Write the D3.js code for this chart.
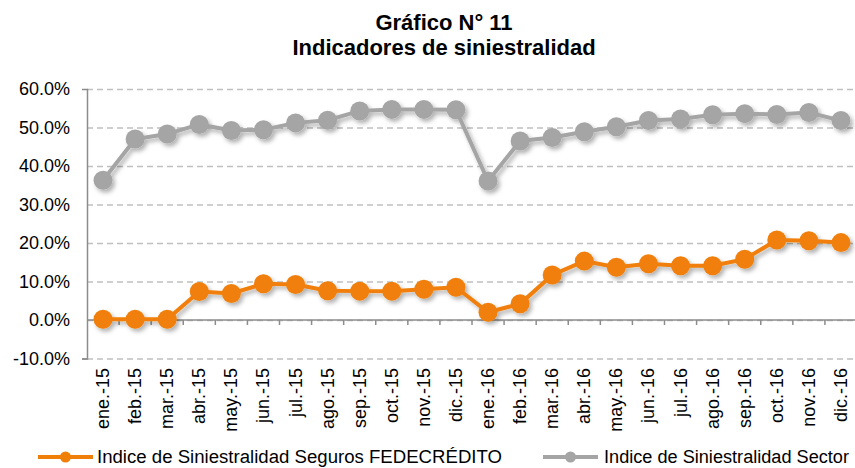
<html>
<head>
  <script src="https://d3js.org/d3.v7.min.js"></script>
  <style>
    body { margin: 0; background: #fff; }
    text { font-family: "Liberation Sans", Arial, sans-serif; fill: #000; }
    .gridlines line { stroke: #c0c0c0; stroke-width: 1.3; stroke-dasharray: 6,4; }
    .gridlines .domain { stroke: none; }
  </style>
</head>
<body>
<svg id="p" width="855" height="468"></svg>
<script>
  const months = ["ene.-15","feb.-15","mar.-15","abr.-15","may.-15","jun.-15","jul.-15","ago.-15","sep.-15","oct.-15","nov.-15","dic.-15",
                  "ene.-16","feb.-16","mar.-16","abr.-16","may.-16","jun.-16","jul.-16","ago.-16","sep.-16","oct.-16","nov.-16","dic.-16"];
  const fedecredito = [0.2,0.2,0.2,7.4,6.9,9.4,9.2,7.6,7.5,7.5,8.0,8.5,
                       2.0,4.2,11.7,15.3,13.7,14.6,14.1,14.1,15.8,20.8,20.6,20.1];
  const sector = [36.3,47.0,48.3,50.8,49.2,49.4,51.2,51.9,54.3,54.7,54.7,54.6,
                  36.1,46.5,47.4,48.9,50.2,51.8,52.2,53.3,53.6,53.4,53.9,51.8];
  const yTicks = [-10,0,10,20,30,40,50,60];
  const seriesNames = ["Indice de Siniestralidad Seguros FEDECRÉDITO","Indice de Siniestralidad Sector"];
  const colors = ["#f07f09","#a5a5a5"];

  const svg = d3.select("svg#p");
  const margin = {top: 89, right: -2, bottom: 110, left: 87};
  const width = +svg.attr("width");
  const height = +svg.attr("height");

  const x = d3.scaleBand().domain(months).range([margin.left, width - margin.right]);
  const y = d3.scaleLinear().domain([-10, 60]).range([358.5, margin.top]);

  const defs = svg.append("defs");
  const f = defs.append("filter").attr("id","shadow").attr("x","-20%").attr("y","-20%").attr("width","140%").attr("height","160%");
  f.append("feDropShadow").attr("dx",2.5).attr("dy",3).attr("stdDeviation",2)
   .attr("flood-color","#000").attr("flood-opacity",0.3);

  // title
  svg.append("text").attr("x", 444).attr("y", 30).attr("text-anchor","middle")
     .style("font-size","22px").style("font-weight","bold").text("Gráfico N° 11");
  svg.append("text").attr("x", 444).attr("y", 55).attr("text-anchor","middle")
     .style("font-size","22px").style("font-weight","bold").text("Indicadores de siniestralidad");

  // gridlines
  svg.append("g").attr("class","gridlines")
     .attr("transform","translate("+margin.left+",0)")
     .call(d3.axisLeft(y).tickValues(yTicks).tickSize(-(width - margin.left)).tickFormat(""));

  // y axis
  const yAxis = svg.append("g").attr("transform","translate("+margin.left+",0)")
     .call(d3.axisLeft(y).tickValues(yTicks).tickSize(5).tickPadding(12).tickFormat(d => d.toFixed(1) + "%"));
  yAxis.select(".domain").attr("stroke","#8c8c8c").attr("stroke-width",1.5);
  yAxis.selectAll(".tick line").attr("stroke","#8c8c8c").attr("stroke-width",1.5);
  yAxis.selectAll(".tick text").style("font-size","18px").attr("font-family",null);
  yAxis.selectAll(".tick").filter(d => d !== -10).select("line").remove();

  // category axis along 0%
  const xa = svg.append("g");
  xa.append("line").attr("x1", margin.left).attr("x2", width).attr("y1", y(0)).attr("y2", y(0))
    .attr("stroke","#8c8c8c").attr("stroke-width",1.5);
  xa.selectAll("line.tk").data(d3.range(1, months.length + 1)).join("line").attr("class","tk")
    .attr("x1", i => x.range()[0] + i * x.step()).attr("x2", i => x.range()[0] + i * x.step())
    .attr("y1", y(0)).attr("y2", y(0) + 5).attr("stroke","#8c8c8c").attr("stroke-width",1.5);

  // category labels at bottom
  svg.append("g").selectAll("text").data(months).join("text")
     .attr("transform", d => "translate(" + (x(d) + x.bandwidth()/2 + 6) + ",368) rotate(-90)")
     .attr("text-anchor","end")
     .style("font-size","18px")
     .text(d => d);

  const line = d3.line().x((d, i) => x(months[i]) + x.bandwidth()/2).y(d => y(d));

  [sector, fedecredito].forEach((vals, k) => {
    const c = k === 0 ? colors[1] : colors[0];
    const g = svg.append("g").attr("filter","url(#shadow)");
    g.append("path").datum(vals).attr("d", line).attr("fill","none")
     .attr("stroke", c).attr("stroke-width", 4);
    g.selectAll("circle").data(vals).join("circle")
     .attr("cx", (d, i) => x(months[i]) + x.bandwidth()/2)
     .attr("cy", d => y(d)).attr("r", 9.5).attr("fill", c);
  });

  // legend
  const legend = [{x0: 38, x1: 93, tx: 97, len: 405}, {x0: 543, x1: 598, tx: 604, len: 245}];
  legend.forEach((l, k) => {
    const g = svg.append("g");
    g.append("line").attr("x1", l.x0).attr("x2", l.x1).attr("y1", 457).attr("y2", 457)
     .attr("stroke", colors[k]).attr("stroke-width", 4);
    g.append("circle").attr("cx", (l.x0 + l.x1)/2).attr("cy", 457).attr("r", 5.5).attr("fill", colors[k]);
    g.append("text").attr("x", l.tx).attr("y", 463).style("font-size","18px")
     .attr("textLength", l.len).attr("lengthAdjust","spacingAndGlyphs").text(seriesNames[k]);
  });
</script>
</body>
</html>
